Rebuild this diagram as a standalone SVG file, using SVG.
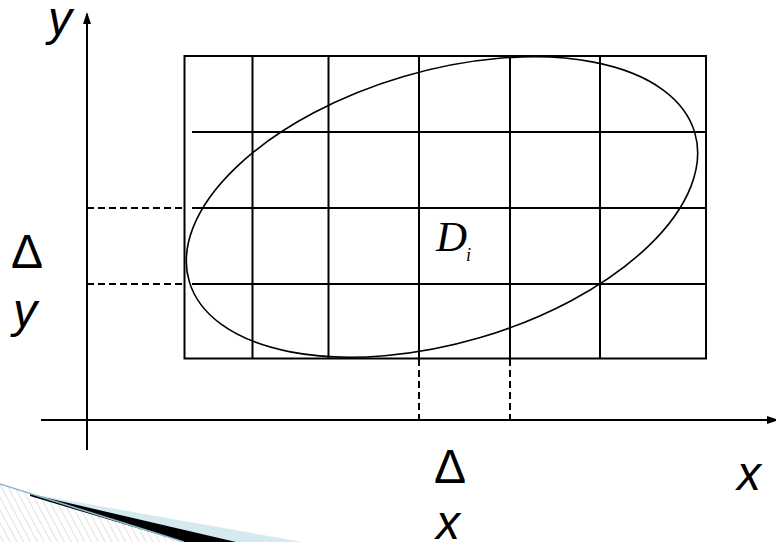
<svg xmlns="http://www.w3.org/2000/svg" width="776" height="542" viewBox="0 0 776 542">
  <style>
    .grid { stroke: #000; stroke-width: 2; fill: none; }
    .axis { stroke: #000; stroke-width: 2; fill: none; }
    .dash { stroke: #000; stroke-width: 2; fill: none; stroke-dasharray: 7 4; }
    .curve { stroke: #000; stroke-width: 1.6; fill: none; }
    .lab { font-family: "Liberation Sans", Arial, sans-serif; font-size: 48px; fill: #000; }
    .it { font-style: italic; }
    .math { font-family: "Liberation Serif", "Times New Roman", serif; font-style: italic; fill: #000; }
  </style>
  <defs>
    <marker id="arrow" viewBox="0 0 12 8" markerWidth="12" markerHeight="8" refX="10" refY="4" orient="auto" markerUnits="userSpaceOnUse">
      <path d="M0,0 L12,4 L0,8 z" fill="#000"/>
    </marker>
    <pattern id="hatch" width="6" height="6" patternUnits="userSpaceOnUse" patternTransform="rotate(-28)">
      <line x1="0" y1="0" x2="0" y2="6" stroke="#c4c4c4" stroke-width="1"/>
    </pattern>
  </defs>

  <g id="decoration">
    <polygon points="0,484 184,542 0,542" fill="url(#hatch)"/>
    <polygon points="26,493 302,542 182,542" fill="#d5e9f1"/>
    <polygon points="30,494 236,542 184,542 30,496" fill="#000"/>
    <line x1="0" y1="484" x2="184" y2="542" stroke="#8cbcd3" stroke-width="1.5"/>
  </g>

  <g id="connectors">
    <line id="y-axis" class="axis" x1="87" y1="450" x2="87" y2="14" marker-end="url(#arrow)"/>
    <line id="x-axis" class="axis" x1="41" y1="420" x2="777" y2="420" marker-end="url(#arrow)"/>
    <line class="dash" x1="87" y1="208" x2="182" y2="208"/>
    <line class="dash" x1="87" y1="284" x2="182" y2="284"/>
    <line class="dash" x1="419" y1="359" x2="419" y2="420"/>
    <line class="dash" x1="510" y1="359" x2="510" y2="420"/>
  </g>

  <g id="grid">
    <rect class="grid" x="184.5" y="56" width="521.5" height="302.5"/>
    <line class="grid" x1="252.5" y1="56" x2="252.5" y2="358.5"/>
    <line class="grid" x1="328.5" y1="56" x2="328.5" y2="358.5"/>
    <line class="grid" x1="419" y1="56" x2="419" y2="358.5"/>
    <line class="grid" x1="510" y1="56" x2="510" y2="358.5"/>
    <line class="grid" x1="600" y1="56" x2="600" y2="358.5"/>
    <line class="grid" x1="192" y1="132" x2="706" y2="132"/>
    <line class="grid" x1="192" y1="208" x2="706" y2="208"/>
    <line class="grid" x1="192" y1="284" x2="706" y2="284"/>
  </g>

  <g id="region-D">
    <ellipse class="curve" cx="442" cy="207" rx="263.5" ry="136" transform="rotate(-16.4 442 207)"/>
  </g>

  <g id="labels">
    <text class="lab it" x="48" y="35">y</text>
    <text class="lab" x="11" y="268">Δ</text>
    <text class="lab it" x="13" y="327">y</text>
    <text class="lab" x="434" y="483">Δ</text>
    <text class="lab it" x="436" y="539">x</text>
    <text class="lab it" x="737" y="490">x</text>
    <text class="math" x="436" y="251" font-size="43">D</text>
    <text class="math" x="466" y="261" font-size="18">i</text>
  </g>
</svg>
